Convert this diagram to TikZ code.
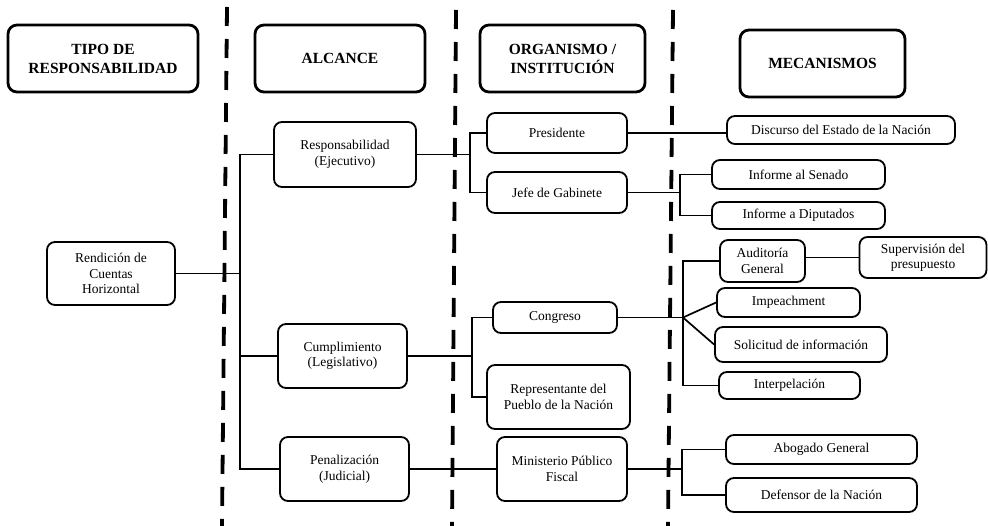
\documentclass[tikz,border=0pt]{standalone}
\usepackage{fontspec}
\setmainfont{Liberation Serif}

\begin{document}
\begin{tikzpicture}[x=1pt,y=-1pt,
    titulo/.style={draw,line width=2.8pt,rounded corners=9pt,align=center,inner sep=0pt,
      font=\fontsize{15.5}{19}\selectfont\bfseries},
    caja/.style={draw,line width=1.8pt,rounded corners=8pt,align=center,inner sep=0pt,
      font=\fontsize{13.5}{15.5}\selectfont},
    tam/.style 2 args={minimum width=#1pt,minimum height=#2pt},
    linea/.style={line width=1.7pt},
    division/.style={line width=3.8pt,dash pattern=on 19pt off 13pt}]
          \useasboundingbox (0,0) rectangle (988,526);
          % columnas
          \draw[division] (227,7) -- (222,526);
          \draw[division] (456,10) -- (452,526);
          \draw[division] (673,10) -- (668,526);
          % encabezados
          \node[titulo,tam={190}{67}] (tipo) at (103,58.5) {TIPO DE\\RESPONSABILIDAD};
          \node[titulo,tam={170}{67}] (alcance) at (340,58.5) {ALCANCE};
          \node[titulo,tam={165}{67}] (organismo) at (562.5,58.5) {ORGANISMO /\\INSTITUCIÓN};
          \node[titulo,tam={165}{67}] (mecanismos) at (822.5,63.5) {MECANISMOS};
          % tipo / alcance
          \node[caja,tam={128}{63}] (rendicion) at (111,273.5) {Rendición de\\Cuentas\\Horizontal};
          \node[caja,tam={142}{65}] (resp) at (345,154.5) {Responsabilidad\\(Ejecutivo)};
          \node[caja,tam={129}{64}] (cumpl) at (342.5,356) {Cumplimiento\\(Legislativo)};
          \node[caja,tam={129}{64}] (penal) at (344.5,469) {Penalización\\(Judicial)};
          % organismos
          \node[caja,tam={140}{40}] (presidente) at (557,133) {Presidente};
          \node[caja,tam={140}{41}] (jefe) at (557,192.5) {Jefe de Gabinete};
          \node[caja,tam={124}{31}] (congreso) at (555,317.5) {Congreso};
          \node[caja,tam={143}{64}] (representante) at (558.5,397) {Representante del\\Pueblo de la Nación};
          \node[caja,tam={130}{64}] (ministerio) at (562,469) {Ministerio Público\\Fiscal};
          % mecanismos
          \node[caja,tam={228}{28}] (discurso) at (841,130) {Discurso del Estado de la Nación};
          \node[caja,tam={173}{29}] (senado) at (798.5,174.5) {Informe al Senado};
          \node[caja,tam={173}{27}] (diputados) at (798.5,215.5) {Informe a Diputados};
          \node[caja,tam={85}{42}] (auditoria) at (762.5,261) {Auditoría\\General};
          \node[caja,tam={127}{41}] (supervision) at (923,257.5) {Supervisión del\\presupuesto};
          \node[caja,tam={143}{29}] (impeachment) at (788.5,302.5) {Impeachment};
          \node[caja,tam={172}{35}] (solicitud) at (801,344.5) {Solicitud de información};
          \node[caja,tam={141}{27}] (interpelacion) at (789.5,385.5) {Interpelación};
          \node[caja,tam={191}{29}] (abogado) at (821.5,449.5) {Abogado General};
          \node[caja,tam={191}{34}] (defensor) at (821.5,495) {Defensor de la Nación};
          % troncos
          \coordinate (ta) at (240,0);
          \coordinate (tb) at (470,0);
          \coordinate (tc) at (472,0);
          \coordinate (td) at (680,0);
          \coordinate (te) at (683,0);
          \coordinate (tf) at (682,0);
          \draw[linea] (rendicion.east) -- (ta |- rendicion);
          \draw[linea] (resp.west) -| (ta |- penal) -- (penal.west);
          \draw[linea] (cumpl.west) -- (ta |- cumpl);
          \draw[linea] (resp.east) -- (tb |- resp);          % Ejecutivo
          \draw[linea] (presidente.west) -| (tb |- jefe) -- (jefe.west);
          \draw[linea] (cumpl.east) -- (tc |- cumpl);        % Legislativo
          \draw[linea] (congreso.west) -| (tc |- representante) -- (representante.west);
          \draw[linea] (penal.east) -- (ministerio.west);    % Judicial
          \draw[linea] (presidente.east) -- (presidente.east -| discurso.west);
          \draw[linea] (jefe.east) -- (td |- jefe);
          \draw[linea] (senado.west) -| (td |- diputados) -- (diputados.west);
          \draw[linea] (congreso.east) -- (te |- congreso);
          \draw[linea] (auditoria.west) -| (te |- interpelacion) -- (interpelacion.west);
          \draw[linea] (te |- congreso) -- (impeachment.west);
          \draw[linea] (te |- congreso) -- (solicitud.west);
          \draw[linea] (auditoria.east |- supervision.west) -- (supervision.west);
          \draw[linea] (ministerio.east) -- (tf |- ministerio);
          \draw[linea] (abogado.west) -| (tf |- defensor) -- (defensor.west);
        \end{tikzpicture}
\end{document}
